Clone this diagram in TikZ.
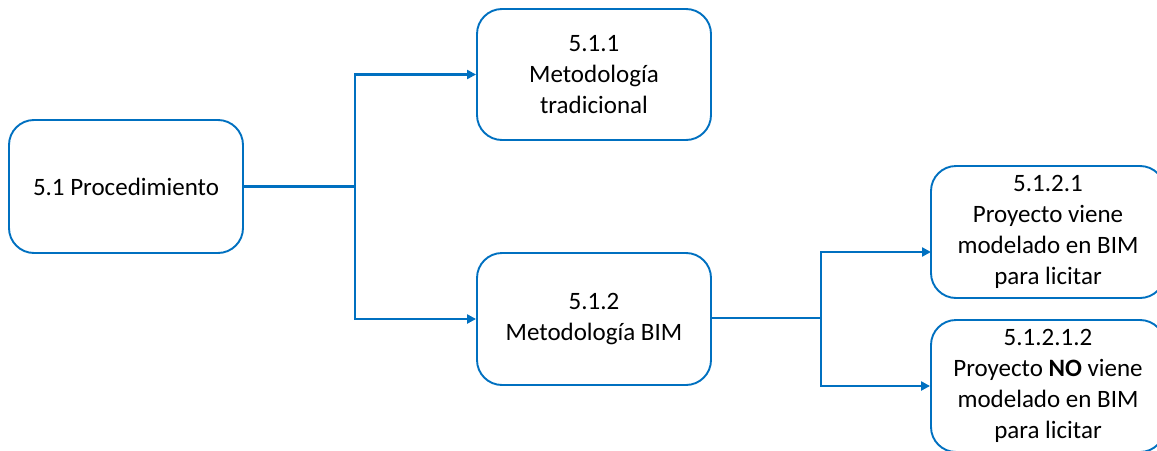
\documentclass[tikz,border=0pt]{standalone}
\usepackage{fontspec}
\setmainfont{Carlito}
\usetikzlibrary{arrows.meta}
\definecolor{linkblue}{HTML}{0070C0}
\tikzset{
  stepbox/.style={draw=linkblue, line width=1.9pt, rounded corners=25pt,
    minimum width=234pt, align=center, inner sep=0pt,
    font=\fontsize{25}{31}\selectfont, text=black},
  link/.style={draw=linkblue, line width=2.3pt},
  arrowlink/.style={link, -{Triangle[length=9pt,width=9pt]}}
}
\begin{document}
\begin{tikzpicture}[x=1pt,y=-1pt]
  \useasboundingbox (0,0) rectangle (1157,450);
  \clip (0,0) rectangle (1157,450);
  \node[stepbox, minimum height=133pt] (proc) at (126,186.5) {5.1 Procedimiento};
  \node[stepbox, minimum height=131pt] (trad) at (594,74.5) {5.1.1\\Metodología\\tradicional};
  \node[stepbox, minimum height=132pt] (bim) at (594,319) {5.1.2\\Metodología BIM};
  \node[stepbox, minimum height=132pt] (mod) at (1048,232) {5.1.2.1\\Proyecto viene\\modelado en BIM\\para licitar};
  \node[stepbox, minimum height=132pt] (nomod) at (1048,386) {5.1.2.1.2\\Proyecto \textbf{NO} viene\\modelado en BIM\\para licitar};

  % branches leaving 5.1
  \coordinate (j1) at (355,186.5);
  \draw[link] (proc.east) -- (j1);
  \draw[arrowlink] (j1) |- (trad.west);
  \draw[arrowlink] (j1) |- (bim.west);

  % branches leaving 5.1.2
  \coordinate (j2) at (821,318);
  \coordinate (modin) at (931,252);
  \draw[link] (bim.east |- j2) -- (j2);
  \draw[arrowlink] (j2) |- (modin);
  \draw[arrowlink] (j2) |- (nomod.west);
\end{tikzpicture}
\end{document}
